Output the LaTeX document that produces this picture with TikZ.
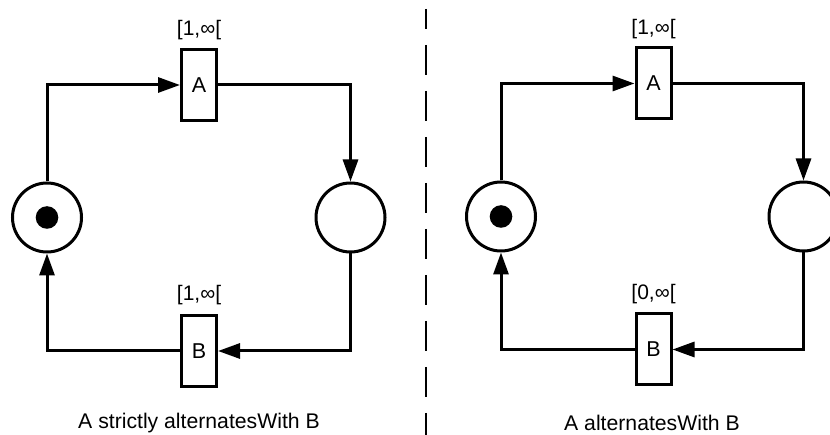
\documentclass[tikz,border=0pt]{standalone}
\usepackage{fontspec}
\setmainfont{Liberation Sans}
\usetikzlibrary{arrows.meta}
\tikzset{
  place/.style={circle,draw,line width=3pt,minimum size=69pt,inner sep=0pt},
  token/.style={circle,fill=black,minimum size=22.6pt,inner sep=0pt},
  trans/.style={rectangle,draw,line width=3pt,minimum width=35pt,minimum height=71pt,inner sep=0pt,font=\fontsize{21.5}{25}\selectfont},
  intv/.style={inner sep=0pt,font=\fontsize{21}{25}\selectfont},
  captext/.style={inner sep=0pt,font=\fontsize{21.2}{25}\selectfont},
  arc/.style={line width=3pt,-{Triangle[length=22pt,width=15pt]}},
  sep/.style={line width=2pt,dash pattern=on 30pt off 16pt,dash phase=10pt}
}
\begin{document}
\begin{tikzpicture}[x=1pt,y=-1pt]
\clip (0,0) rectangle (830,435);
\useasboundingbox (0,0) rectangle (830,435);
% left net
\node[place] (p1) at (47,217.5) {};
\node[token] (k1) at (47,217.5) {};
\node[place] (p2) at (350.5,217.5) {};
\node[trans] (tA) at (199,85) {A};
\node[trans] (tB) at (199,351) {B};
\node[intv] (lA) at (199,30) {[1,∞[};
\node[intv] (lB) at (199,295) {[1,∞[};
\draw[arc] (p1.north) |- (tA.west);
\draw[arc] (tA.east) -| (p2.north);
\draw[arc] (p2.south) |- (tB.east);
\draw[arc] (tB.west) -| (p1.south);
\node[captext] (c1) at (199,423) {A strictly alternatesWith B};
% separator
\coordinate (s1) at (426,9);
\coordinate (s2) at (426,440);
\draw[sep] (s1) -- (s2);
% right net
\node[place] (q1) at (501,216.5) {};
\node[token] (k2) at (501,216.5) {};
\node[place] (q2) at (803.5,216.5) {};
\node[trans] (uA) at (653.5,83.5) {A};
\node[trans] (uB) at (653.5,349.5) {B};
\node[intv] (mA) at (653.5,29) {[1,∞[};
\node[intv] (mB) at (653.5,294) {[0,∞[};
\draw[arc] (q1.north) |- (uA.west);
\draw[arc] (uA.east) -| (q2.north);
\draw[arc] (q2.south) |- (uB.east);
\draw[arc] (uB.west) -| (q1.south);
\node[captext] (c2) at (652,423) {A alternatesWith B};
\end{tikzpicture}
\end{document}
